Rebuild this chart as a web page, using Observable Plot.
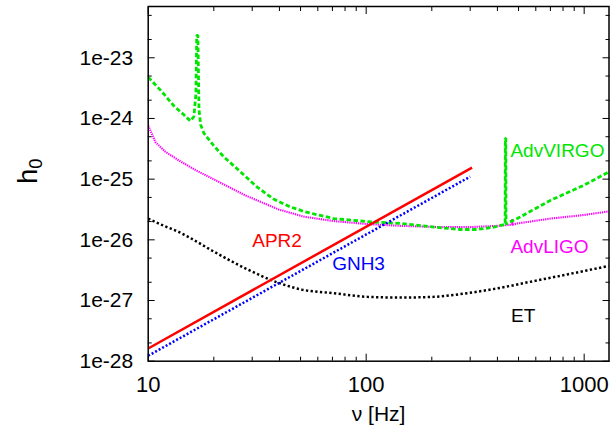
<!DOCTYPE html>
<html><head><meta charset="utf-8">
<script src="https://cdn.jsdelivr.net/npm/d3@7"></script>
<script src="https://cdn.jsdelivr.net/npm/@observablehq/plot@0.6"></script>
<style>body{margin:0;background:#fff} #chart{width:613px;height:432px}</style>
</head><body><div id="chart"></div>
<script>
// ---- data ----
const apr2F = [10, 306];
const apr2H = [1.62e-28, 1.55e-25];
const gnh3F = [10, 300];
const gnh3H = [1.23e-28, 1.1e-25];

const virgoF = [10, 11.5, 13.1, 14.5, 15.6, 16.2, 16.55, 16.7, 16.9, 17.1, 17.4, 18.0, 20, 22.2, 26.5, 31.6, 37.6, 45, 52.7, 71, 101, 144, 204, 270, 323, 385, 428, 434, 435, 437, 438, 460, 493, 700, 995, 1300];
const virgoH = [4.79e-24, 2.82e-24, 1.62e-24, 1.17e-24, 9.1e-25, 1.07e-24, 2.5e-24, 2.34e-23, 2.34e-23, 1.4e-24, 7.9e-25, 5.75e-25, 3.55e-25, 2.34e-25, 1.32e-25, 7.4e-26, 4.7e-26, 3.47e-26, 2.88e-26, 2.24e-26, 2.0e-26, 1.86e-26, 1.62e-26, 1.48e-26, 1.48e-26, 1.62e-26, 1.78e-26, 1.82e-26, 4.7e-25, 4.7e-25, 1.82e-26, 2.0e-26, 2.24e-26, 4.47e-26, 7.9e-26, 1.32e-25];

const ligoF = [10, 10.8, 12, 13.8, 16.5, 19.7, 27.9, 39.7, 52, 71, 101, 144, 219, 300, 400, 466, 468, 470, 493, 700, 1000, 1300];
const ligoH = [7.6e-25, 4.07e-25, 2.82e-25, 2.04e-25, 1.41e-25, 1.02e-25, 5.4e-26, 3.16e-26, 2.4e-26, 2.04e-26, 1.82e-26, 1.70e-26, 1.62e-26, 1.62e-26, 1.70e-26, 1.78e-26, 2.19e-26, 1.78e-26, 1.86e-26, 2.24e-26, 2.57e-26, 2.95e-26];

const etF = [10, 12, 13.8, 15.4, 19.7, 27.9, 39.7, 50.8, 71, 101, 144, 204, 290, 413, 587, 836, 1300];
const etH = [2.24e-26, 1.66e-26, 1.35e-26, 1.10e-26, 6.6e-27, 3.39e-27, 1.95e-27, 1.51e-27, 1.32e-27, 1.15e-27, 1.12e-27, 1.15e-27, 1.32e-27, 1.62e-27, 2.09e-27, 2.69e-27, 3.72e-27];

const labelNames = ["APR2", "GNH3", "AdvVIRGO", "AdvLIGO", "ET"];
const labelF = [30.0, 69.8, 459, 459, 462];
const labelH = [9.5e-27, 3.96e-27, 2.88e-25, 7.6e-27, 5.6e-28];

const xMajor = [10, 100, 1000];
const xTickLabels = ["10", "100", "1000"];
const xMinor = [20, 30, 40, 50, 60, 70, 80, 90, 200, 300, 400, 500, 600, 700, 800, 900];
const yMajor = [1e-28, 1e-27, 1e-26, 1e-25, 1e-24, 1e-23];
const yTickLabels = ["1e-28", "1e-27", "1e-26", "1e-25", "1e-24", "1e-23"];
const yMinor = [2e-28, 5e-28, 2e-27, 5e-27, 2e-26, 5e-26, 2e-25, 5e-25, 2e-24, 5e-24, 2e-23, 5e-23];

const xTitle = "ν [Hz]";
const yTitleBase = "h";
const yTitleSub = "0";

// ---- build ----
const rows = (F, H) => F.map((f, i) => ({f, h: H[i]}));
const colors = {APR2: "#ff0000", GNH3: "#0000ff", AdvVIRGO: "#00e600", AdvLIGO: "#ff00ff", ET: "#000000"};
const labels = labelNames.map((name, i) => ({name, f: labelF[i], h: labelH[i]}));
const xFmt = new Map(xMajor.map((v, i) => [v, xTickLabels[i]]));
const yFmt = new Map(yMajor.map((v, i) => [v, yTickLabels[i]]));
const font = "'Liberation Sans', Arial, Helvetica, sans-serif";
const lineOpts = {x: "f", y: "h", clip: true, strokeLinecap: "butt", strokeLinejoin: "miter"};

const chart = Plot.plot({
  width: 613,
  height: 432,
  marginLeft: 147.7,
  marginRight: 4.5,
  marginTop: 6,
  marginBottom: 71.3,
  style: {fontFamily: font, fontSize: "21px", background: "#fff", color: "#000"},
  x: {type: "log", domain: [10, 1300]},
  y: {type: "log", domain: [1e-28, 7e-23]},
  marks: [
    // tick labels
    Plot.axisY(yMajor, {anchor: "left", tickSize: 0, tickPadding: 15, tickFormat: d => yFmt.get(d), fontSize: 21, label: null}),
    Plot.axisX(xMajor, {anchor: "bottom", tickSize: 0, tickPadding: 15, tickFormat: d => xFmt.get(d), fontSize: 22, label: null}),
    // inward ticks on all four sides
    Plot.axisY(yMajor, {anchor: "left", tickSize: -7, fill: "none", stroke: "#000", label: null}),
    Plot.axisY(yMajor, {anchor: "right", tickSize: -7, fill: "none", stroke: "#000", label: null}),
    Plot.axisY(yMinor, {anchor: "left", tickSize: -4, fill: "none", stroke: "#000", label: null}),
    Plot.axisY(yMinor, {anchor: "right", tickSize: -4, fill: "none", stroke: "#000", label: null}),
    Plot.axisX(xMajor, {anchor: "bottom", tickSize: -7, fill: "none", stroke: "#000", label: null}),
    Plot.axisX(xMajor, {anchor: "top", tickSize: -7, fill: "none", stroke: "#000", label: null}),
    Plot.axisX(xMinor, {anchor: "bottom", tickSize: -4, fill: "none", stroke: "#000", label: null}),
    Plot.axisX(xMinor, {anchor: "top", tickSize: -4, fill: "none", stroke: "#000", label: null}),
    // curves
    Plot.line(rows(etF, etH), {...lineOpts, curve: "monotone-x", stroke: colors.ET, strokeWidth: 2.5, strokeDasharray: "2.3,2.4"}),
    Plot.line(rows(ligoF, ligoH), {...lineOpts, stroke: colors.AdvLIGO, strokeWidth: 2.1, strokeDasharray: "1.3,0.9"}),
    Plot.line(rows(virgoF, virgoH), {...lineOpts, stroke: colors.AdvVIRGO, strokeWidth: 2.8, strokeDasharray: "4.5,2.5"}),
    Plot.line(rows(gnh3F, gnh3H), {...lineOpts, stroke: colors.GNH3, strokeWidth: 2.5, strokeDasharray: "2,2"}),
    Plot.line(rows(apr2F, apr2H), {...lineOpts, stroke: colors.APR2, strokeWidth: 2.5}),
    // curve labels
    Plot.text(labels, {x: "f", y: "h", text: "name", fill: d => colors[d.name], textAnchor: "start", fontSize: 19}),
    // frame
    Plot.frame({stroke: "#000", strokeWidth: 1.5}),
    // axis titles
    Plot.text([xTitle], {frameAnchor: "bottom", text: d => d, dy: 60, fontSize: 21}),
    Plot.text([yTitleBase], {frameAnchor: "left", text: d => d, dx: -120, rotate: -90, fontSize: 27})
  ]
});
// add the subscript to the y title
d3.select(chart).selectAll("text").filter(function() { return this.textContent === yTitleBase; })
  .append("tspan").attr("font-size", "0.68em").attr("dy", "0.3em").text(yTitleSub);
document.getElementById("chart").appendChild(chart);
</script>
</body></html>
